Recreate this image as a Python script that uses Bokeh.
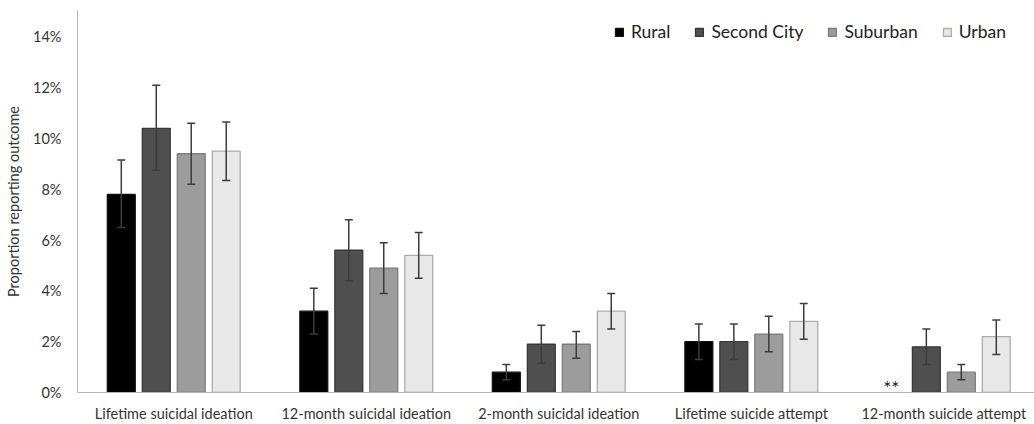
import math
from bokeh.plotting import figure
from bokeh.models import ColumnDataSource, FixedTicker, PrintfTickFormatter, Whisker, TeeHead, Range1d
from bokeh.core.properties import value
from bokeh.embed import file_html
from bokeh.resources import INLINE

nan = float("nan")

categories = ["Lifetime suicidal ideation", "12-month suicidal ideation",
              "2-month suicidal ideation", "Lifetime suicide attempt",
              "12-month suicide attempt"]
series = ["Rural", "Second City", "Suburban", "Urban"]

rural = [7.8, 3.2, 0.8, 2.0, nan]
rural_lo = [6.5, 2.3, 0.5, 1.3, nan]
rural_hi = [9.15, 4.1, 1.1, 2.7, nan]

second_city = [10.4, 5.6, 1.9, 2.0, 1.8]
second_city_lo = [8.75, 4.4, 1.15, 1.3, 1.1]
second_city_hi = [12.1, 6.8, 2.65, 2.7, 2.5]

suburban = [9.4, 4.9, 1.9, 2.3, 0.8]
suburban_lo = [8.2, 3.9, 1.35, 1.6, 0.5]
suburban_hi = [10.6, 5.9, 2.4, 3.0, 1.1]

urban = [9.5, 5.4, 3.2, 2.8, 2.2]
urban_lo = [8.35, 4.5, 2.5, 2.1, 1.5]
urban_hi = [10.65, 6.3, 3.9, 3.5, 2.85]

y_ticks = [0, 2, 4, 6, 8, 10, 12, 14]
suppressed_note = "**"  # Rural, 12-month suicide attempt

FONT = "Lato"
fills = ["#000000", "#4f4f4f", "#9c9c9c", "#e8e8e8"]
lines = ["#111111", "#383838", "#7c7c7c", "#ababab"]
offsets = [-0.2725, -0.0908, 0.0908, 0.2725]
bar_w = 0.145

p = figure(width=1034, height=424, output_backend="svg", toolbar_location=None,
           x_range=Range1d(0, 4.971), y_range=Range1d(0, 15.04),
           min_border_left=77, min_border_right=0, min_border_top=10, min_border_bottom=32)
p.outline_line_color = None
p.xgrid.visible = False
p.ygrid.visible = False

data = [(rural, rural_lo, rural_hi), (second_city, second_city_lo, second_city_hi),
        (suburban, suburban_lo, suburban_hi), (urban, urban_lo, urban_hi)]

centers = [i + 0.5 for i in range(len(categories))]
for k, (vals, lo, hi) in enumerate(data):
    xs = [c + offsets[k] for c in centers]
    src = ColumnDataSource(dict(x=xs, top=vals, lo=lo, hi=hi))
    p.vbar(x="x", top="top", bottom=0, width=bar_w, source=src,
           fill_color=fills[k], line_color=lines[k], line_width=1.3,
           legend_label=series[k])
    w = Whisker(base="x", lower="lo", upper="hi", source=src, dimension="height",
                line_color="#3c3c3c", line_width=1.5, level="overlay",
                lower_head=TeeHead(size=8, line_color="#3c3c3c", line_width=1.5),
                upper_head=TeeHead(size=8, line_color="#3c3c3c", line_width=1.5))
    p.add_layout(w)

# "**" marker for suppressed Rural estimate
note_src = ColumnDataSource(dict(x=[centers[4] + offsets[0]], y=[0], t=[suppressed_note]))
p.text(x="x", y="y", text="t", source=note_src, text_align="center",
       text_baseline="middle", text_font=value(FONT), text_font_size="19px",
       text_color="#222222", y_offset=-5)

# axes
for ax in (p.xaxis[0], p.yaxis[0]):
    ax.axis_line_color = "#b4b4b4"
    ax.axis_line_width = 1
    ax.major_tick_out = 0
    ax.major_tick_in = 0
    ax.minor_tick_out = 0
    ax.minor_tick_in = 0
    ax.major_tick_line_color = None
    ax.minor_tick_line_color = None
    ax.major_label_text_font = FONT
    ax.major_label_text_font_size = "14.5px"
    ax.major_label_text_color = "#333333"

p.xaxis.ticker = FixedTicker(ticks=centers)
p.xaxis.major_label_overrides = {c: categories[i] for i, c in enumerate(centers)}
p.xaxis.major_label_standoff = 12

p.yaxis.ticker = FixedTicker(ticks=y_ticks)
p.yaxis.formatter = PrintfTickFormatter(format="%d%%")
p.yaxis.major_label_standoff = 16
p.yaxis.axis_label = "Proportion reporting outcome"
p.yaxis.axis_label_text_font = FONT
p.yaxis.axis_label_text_font_size = "14.5px"
p.yaxis.axis_label_text_font_style = "normal"
p.yaxis.axis_label_text_color = "#333333"
p.yaxis.axis_label_standoff = 8

# legend
lg = p.legend[0]
lg.orientation = "horizontal"
lg.location = (537, 350)
lg.margin = 0
lg.padding = 0
lg.spacing = 24
lg.label_standoff = 7
lg.glyph_width = 10
lg.glyph_height = 10
lg.border_line_color = None
lg.background_fill_alpha = 0
lg.label_text_font = FONT
lg.label_text_font_size = "17.5px"
lg.label_text_color = "#222222"

open("out.html", "w").write(file_html(p, INLINE))
